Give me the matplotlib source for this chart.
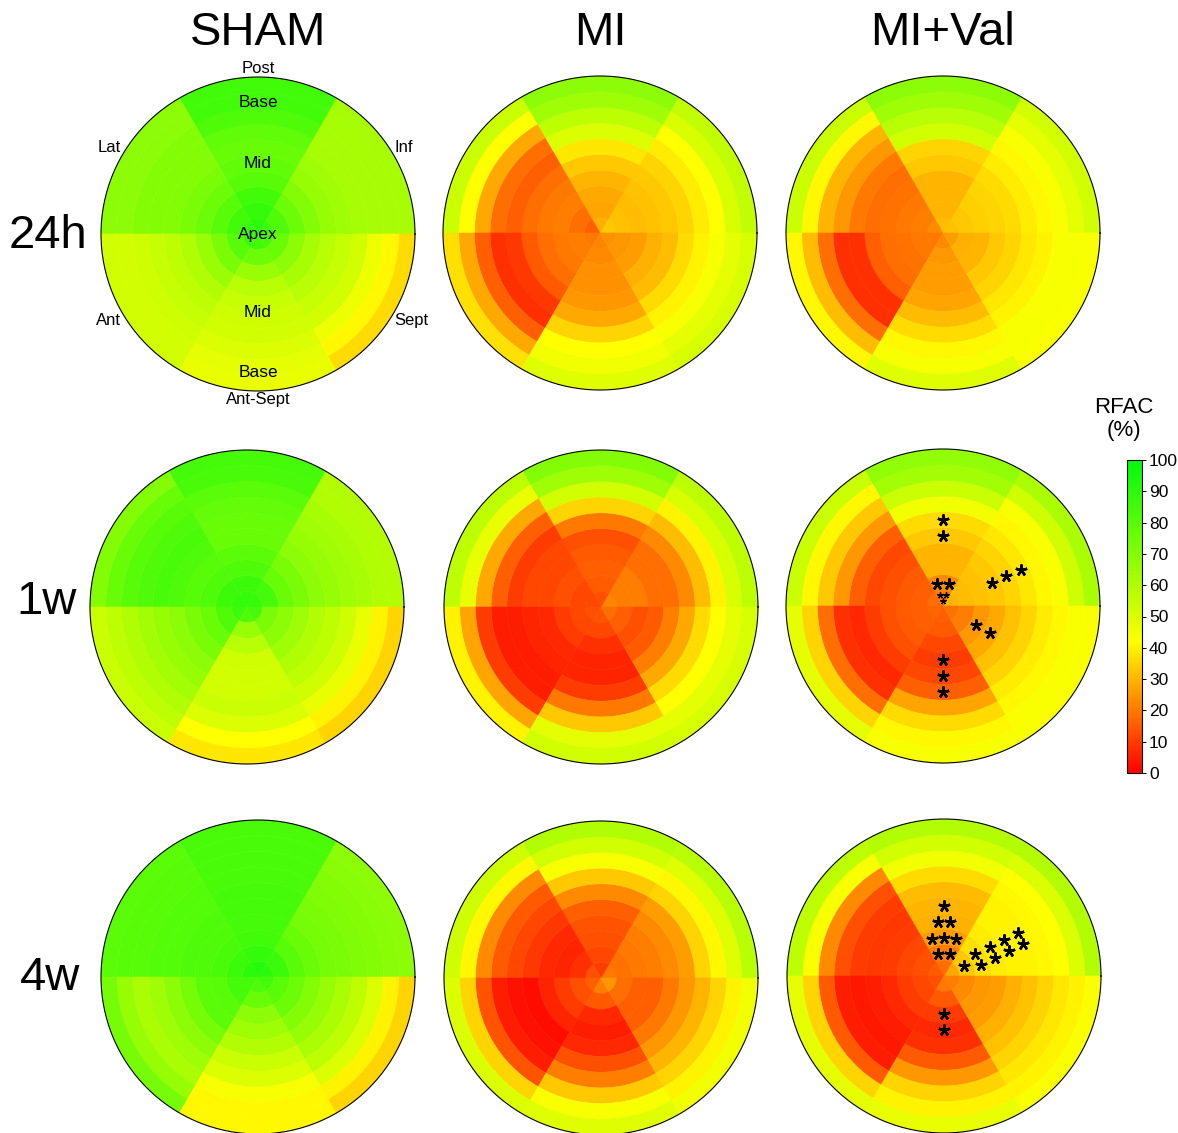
import numpy as np
import matplotlib
matplotlib.use('Agg')
import matplotlib.pyplot as plt
from matplotlib.colors import LinearSegmentedColormap, Normalize
from matplotlib.cm import ScalarMappable

plt.rcParams['font.family'] = ['Liberation Sans', 'DejaVu Sans']

# ---------------- data ----------------
columns = ['SHAM', 'MI', 'MI+Val']
rows = ['24h', '1w', '4w']
sectors = ['Inf', 'Post', 'Lat', 'Ant', 'Ant-Sept', 'Sept']   # 0-60, 60-120, ... degrees
sector_start_deg = [0, 60, 120, 180, 240, 300]
n_rings = 10   # ring 0 = apex (centre) ... ring 9 = base (edge)

# RFAC (%) per sector (rows, order as `sectors`) and ring (apex -> base)
sham_24h = [[86, 82, 75, 70, 66, 64, 62, 62, 62, 62],
            [90, 88, 85, 80, 78, 76, 78, 82, 85, 85],
            [88, 85, 80, 75, 72, 70, 70, 70, 68, 68],
            [86, 80, 72, 65, 60, 57, 55, 53, 52, 52],
            [85, 75, 65, 58, 55, 53, 52, 50, 48, 47],
            [84, 76, 68, 62, 58, 55, 52, 46, 41, 36]]
mi_24h = [[33, 32, 31, 32, 33, 35, 39, 42, 51, 56],
          [29, 27, 28, 30, 33, 38, 50, 57, 64, 68],
          [16, 18, 21, 20, 18, 16, 18, 28, 42, 54],
          [20, 21, 20, 18, 15, 9, 8, 16, 28, 37],
          [22, 23, 24, 24, 25, 28, 35, 42, 45, 49],
          [24, 25, 26, 29, 31, 36, 40, 44, 48, 51]]
mival_24h = [[32, 33, 34, 35, 36, 39, 41, 43, 48, 52],
             [31, 30, 30, 30, 33, 35, 52, 58, 64, 68],
             [23, 21, 20, 19, 18, 20, 25, 30, 41, 54],
             [20, 20, 19, 18, 16, 8, 8, 18, 31, 41],
             [23, 25, 26, 26, 27, 31, 36, 41, 44, 49],
             [26, 29, 30, 33, 35, 38, 40, 44, 44, 43]]
sham_1w = [[88, 84, 76, 72, 68, 66, 64, 62, 60, 59],
           [88, 86, 82, 79, 76, 76, 77, 79, 83, 84],
           [88, 86, 82, 80, 82, 83, 82, 80, 76, 70],
           [86, 82, 76, 72, 68, 66, 63, 60, 57, 54],
           [82, 65, 58, 53, 52, 52, 54, 50, 42, 38],
           [84, 72, 68, 64, 60, 57, 53, 47, 40, 35]]
mi_1w = [[22, 21, 21, 18, 18, 23, 31, 40, 51, 57],
         [13, 15, 16, 15, 13, 20, 35, 52, 64, 70],
         [12, 12, 13, 12, 12, 10, 16, 28, 47, 57],
         [13, 12, 10, 7, 6, 5, 5, 10, 27, 40],
         [14, 12, 8, 6, 6, 10, 20, 33, 48, 52],
         [18, 16, 13, 15, 21, 28, 36, 42, 48, 51]]
mival_1w = [[30, 31, 32, 33, 35, 38, 41, 43, 53, 61],
            [20, 23, 30, 30, 33, 36, 45, 54, 63, 67],
            [18, 16, 15, 13, 12, 16, 25, 33, 41, 54],
            [17, 16, 15, 13, 10, 7, 8, 18, 35, 48],
            [16, 15, 12, 10, 12, 16, 27, 36, 41, 44],
            [19, 21, 25, 28, 32, 35, 39, 41, 43, 43]]
sham_4w = [[90, 86, 80, 76, 73, 72, 71, 70, 69, 68],
           [92, 88, 85, 84, 84, 84, 83, 83, 83, 83],
           [90, 86, 83, 82, 82, 81, 81, 80, 80, 79],
           [84, 84, 80, 79, 73, 68, 64, 61, 66, 73],
           [82, 76, 68, 64, 59, 54, 50, 44, 41, 41],
           [85, 80, 75, 70, 66, 61, 57, 50, 40, 35]]
mi_4w = [[20, 19, 20, 21, 23, 26, 35, 41, 49, 58],
         [10, 12, 13, 14, 16, 23, 33, 43, 52, 60],
         [13, 8, 6, 7, 9, 12, 15, 23, 41, 53],
         [16, 13, 10, 6, 2, 3, 5, 14, 35, 50],
         [21, 15, 7, 5, 7, 13, 21, 33, 43, 49],
         [25, 18, 16, 16, 20, 25, 30, 35, 40, 45]]
mival_4w = [[28, 33, 37, 39, 40, 40, 41, 42, 50, 59],
            [18, 21, 26, 29, 30, 31, 36, 45, 52, 59],
            [15, 13, 12, 10, 9, 10, 13, 23, 44, 57],
            [13, 12, 10, 7, 5, 4, 5, 15, 35, 48],
            [20, 15, 10, 7, 8, 15, 25, 35, 40, 47],
            [21, 23, 25, 26, 29, 32, 35, 38, 40, 43]]

panels = [[sham_24h, mi_24h, mival_24h],
          [sham_1w, mi_1w, mival_1w],
          [sham_4w, mi_4w, mival_4w]]

# significance stars: (angle_deg, ring, count)
stars_mival_1w = [(90, 5, 1), (90, 4, 1), (90, 1, 2),
                  (25, 3, 1), (25, 4, 1), (25, 5, 1),
                  (330, 2, 1), (330, 3, 1),
                  (270, 3, 1), (270, 4, 1), (270, 5, 1)]
# small stars at the apex: (angle_deg, radius, count)
small_stars_mival_1w = [(90, 0.72, 2), (90, 0.33, 1)]
stars_mival_4w = [(90, 4, 1), (90, 3, 2), (90, 2, 3), (90, 1, 2),
                  (26, 1, 1), (26, 2, 2), (26, 3, 2), (26, 4, 2), (26, 5, 2),
                  (270, 2, 1), (270, 3, 1)]

orient_labels = ['Post', 'Lat', 'Inf', 'Ant', 'Sept', 'Ant-Sept']
ring_labels = ['Base', 'Mid', 'Apex', 'Mid', 'Base']
cbar_ticks = list(range(0, 101, 10))

# ---------------- layout ----------------
W, H = 1178, 1133
fig = plt.figure(figsize=(W / 100, H / 100), dpi=100)
R = 157
centers = [[(258, 234), (600, 233), (943, 233)],
           [(247, 607), (601, 607), (943, 606)],
           [(258, 977), (601, 978), (944, 976)]]

cmap = LinearSegmentedColormap.from_list(
    'rfac', [(0.0, (1, 0, 0)), (0.42, (1, 1, 0)), (1.0, (0.0, 0.98, 0.05))])
norm = Normalize(0, 100)


def make_ax(cx, cy):
    ax = fig.add_axes([(cx - R) / W, 1 - (cy + R) / H, 2 * R / W, 2 * R / H],
                      projection='polar')
    ax.set_ylim(0, n_rings)
    ax.set_xticks([])
    ax.set_yticks([])
    ax.grid(False)
    ax.spines['polar'].set_linewidth(0.8)
    ax.spines['polar'].set_color('black')
    return ax


def draw_stars(ax, groups, small=False):
    spacing = 6.0 if small else 12.3
    for ang, rr, n in groups:
        rad = rr if small else rr + 0.45
        rpx = rad * R / n_rings
        dth = spacing / rpx
        for i in range(n):
            th = np.deg2rad(ang) + (i - (n - 1) / 2) * dth
            ax.plot([th], [rad], marker=(5, 2, 0), color='black',
                    markersize=4.5 if small else 8.5,
                    markeredgewidth=1.0 if small else 1.8, zorder=5)


axes = []
for i in range(3):
    for j in range(3):
        cx, cy = centers[i][j]
        ax = make_ax(cx, cy)
        vals = panels[i][j]
        for s in range(6):
            th = np.deg2rad(sector_start_deg[s] + 30)
            cols = [cmap(norm(v)) for v in vals[s]]
            ax.bar([th] * n_rings, [1] * n_rings, width=np.deg2rad(60),
                   bottom=np.arange(n_rings), color=cols, edgecolor=cols,
                   linewidth=0.4, align='center')
        ax.set_ylim(0, n_rings)
        axes.append(ax)

# significance markers on MI+Val panels
draw_stars(axes[5], stars_mival_1w)
draw_stars(axes[5], small_stars_mival_1w, small=True)
draw_stars(axes[8], stars_mival_4w)

# orientation labels on SHAM 24h
ax0 = axes[0]
lab_pos = [(90, 'center', 'bottom'), (150, 'right', 'bottom'), (30, 'left', 'bottom'),
           (210, 'right', 'top'), (330, 'left', 'top'), (270, 'center', 'top')]
for lab, (ang, ha, va) in zip(orient_labels, lab_pos):
    ax0.text(np.deg2rad(ang), 10.05, lab, ha=ha, va=va, fontsize=12,
             clip_on=False)
ring_pos = [(90, 8.35), (90, 4.5), (0, 0.0), (270, 5.0), (270, 8.85)]
for lab, (ang, rr) in zip(ring_labels, ring_pos):
    ax0.text(np.deg2rad(ang), rr, lab, ha='center', va='center', fontsize=12.5)

# column & row titles
col_x = [258, 600, 942]
for lab, x in zip(columns, col_x):
    fig.text(x / W, 1 - 33 / H, lab, ha='center', va='center', fontsize=34)
row_pos = [(48, 236), (47, 602), (50, 978)]
for lab, (x, y) in zip(rows, row_pos):
    fig.text(x / W, 1 - y / H, lab, ha='center', va='center', fontsize=34)

# colour bar
cax = fig.add_axes([1127 / W, 1 - 773 / H, 15 / W, 313 / H])
cb = fig.colorbar(ScalarMappable(norm=norm, cmap=cmap), cax=cax, ticks=cbar_ticks)
cb.ax.tick_params(labelsize=12.5, length=3, width=0.7, pad=2)
cb.outline.set_linewidth(0.8)
fig.text(1124 / W, 1 - 419 / H, 'RFAC\n(%)', ha='center', va='center',
         fontsize=16, linespacing=1.15)

fig.savefig('out.png', dpi=100, facecolor='white')
